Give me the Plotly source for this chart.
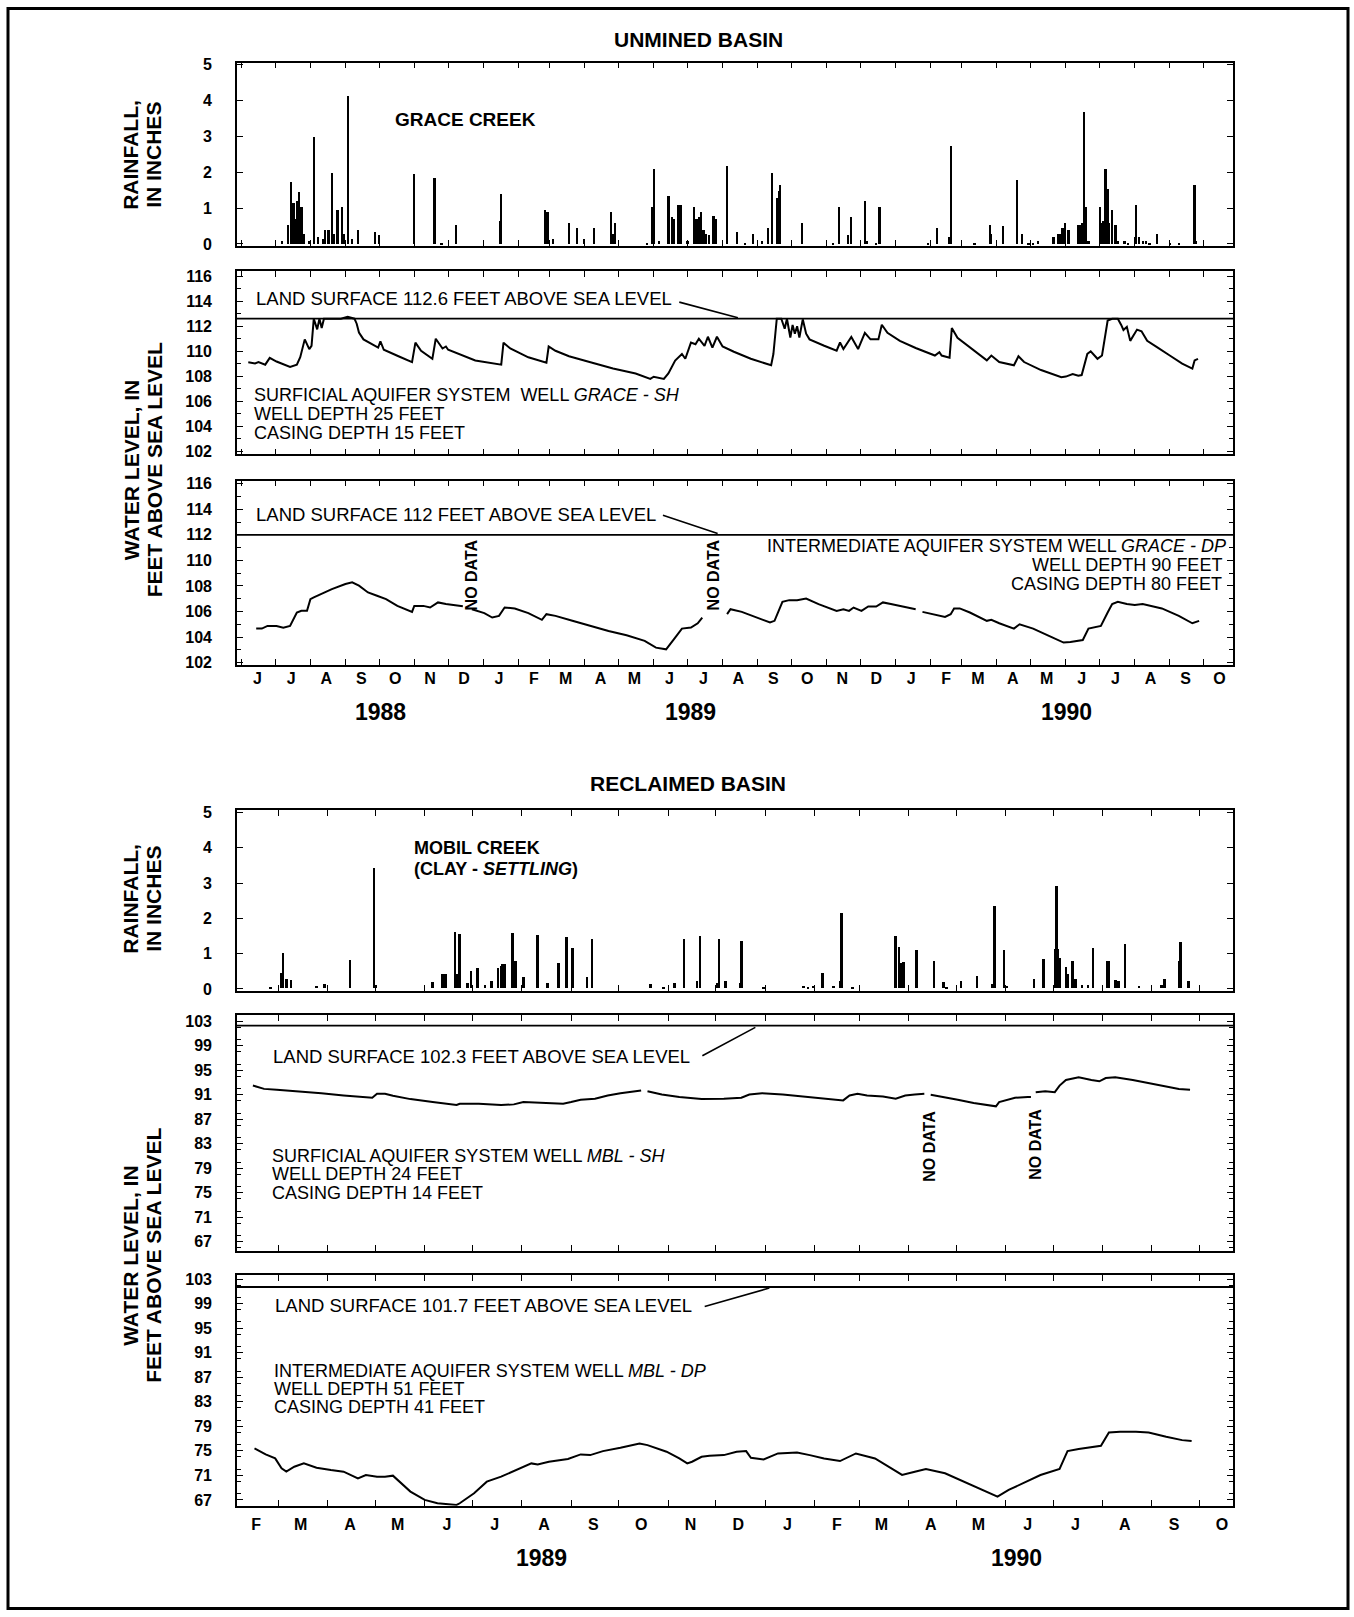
import plotly.graph_objects as go
import pandas as pd

W, H = 1354, 1617
FONT = "Liberation Sans, Arial, Helvetica, sans-serif"

# ---------------- DATA ----------------
# Unmined basin - Grace Creek daily rainfall (inches)
grace_rain_dates = [
    "1988-07-07", "1988-07-12", "1988-07-15", "1988-07-17", "1988-07-19", "1988-07-20", "1988-07-22",
    "1988-07-24", "1988-07-26", "1988-07-31", "1988-08-04", "1988-08-08", "1988-08-12", "1988-08-14",
    "1988-08-17", "1988-08-20", "1988-08-22", "1988-08-25", "1988-08-29", "1988-08-31", "1988-09-03",
    "1988-09-07", "1988-09-12", "1988-09-27", "1988-10-01", "1988-11-01", "1988-11-19", "1988-11-25",
    "1988-12-08", "1989-01-16", "1989-01-17", "1989-02-25", "1989-02-27", "1989-03-04", "1989-03-18",
    "1989-03-25", "1989-03-31", "1989-04-09", "1989-04-24", "1989-04-26", "1989-04-28", "1989-05-26",
    "1989-05-31", "1989-06-01", "1989-06-06", "1989-06-14", "1989-06-17", "1989-06-19", "1989-06-23",
    "1989-06-25", "1989-07-01", "1989-07-07", "1989-07-09", "1989-07-11", "1989-07-13", "1989-07-15",
    "1989-07-17", "1989-07-20", "1989-07-24", "1989-07-26", "1989-08-05", "1989-08-14", "1989-08-21",
    "1989-08-28", "1989-09-05", "1989-09-10", "1989-09-14", "1989-09-18", "1989-09-20", "1989-09-21",
    "1989-10-10", "1989-11-07", "1989-11-12", "1989-11-20", "1989-11-23", "1989-12-05", "1989-12-07",
    "1989-12-15", "1989-12-18", "1990-01-30", "1990-02-07", "1990-02-18", "1990-02-19", "1990-03-12",
    "1990-03-26", "1990-03-27", "1990-04-06", "1990-04-19", "1990-04-23", "1990-04-29", "1990-05-03",
    "1990-05-07", "1990-05-21", "1990-05-25", "1990-05-27", "1990-05-29", "1990-05-31", "1990-06-03",
    "1990-06-04", "1990-06-12", "1990-06-13", "1990-06-15", "1990-06-17", "1990-06-19", "1990-06-21",
    "1990-07-01", "1990-07-03", "1990-07-04", "1990-07-06", "1990-07-08", "1990-07-09", "1990-07-12",
    "1990-07-15", "1990-07-17", "1990-07-23", "1990-07-26", "1990-08-01", "1990-08-02", "1990-08-05",
    "1990-08-08", "1990-08-11", "1990-08-14", "1990-08-21", "1990-09-01", "1990-09-09", "1990-09-23",
    "1990-09-24",
]
grace_rain_in = [
    0.10, 0.55, 1.75, 1.15, 0.70, 1.20, 1.45,
    1.05, 0.30, 0.10, 3.00, 0.20, 0.15, 0.40,
    0.40, 2.00, 0.30, 0.95, 1.05, 0.30, 4.15,
    0.15, 0.40, 0.35, 0.25, 1.95, 1.85, 0.05,
    0.55, 0.65, 1.40, 0.95, 0.90, 0.15, 0.60,
    0.45, 0.15, 0.45, 0.90, 0.30, 0.60, 0.05,
    1.05, 2.10, 0.10, 1.35, 0.75, 0.70, 1.10,
    1.10, 0.10, 1.05, 0.70, 0.75, 0.90, 0.40,
    0.30, 0.25, 0.80, 0.70, 2.20, 0.35, 0.05,
    0.30, 0.10, 0.45, 2.00, 1.30, 1.50, 1.65,
    0.60, 0.05, 1.05, 0.25, 0.75, 1.20, 0.10,
    0.05, 1.05, 0.05, 0.45, 0.20, 2.75, 0.05,
    0.55, 0.30, 0.50, 1.80, 0.30, 0.05, 0.05,
    0.10, 0.20, 0.30, 0.30, 0.45, 0.60, 0.40,
    0.40, 0.55, 0.55, 0.60, 3.70, 1.05, 0.10,
    1.05, 0.60, 0.65, 2.10, 1.55, 0.60, 0.95,
    0.55, 0.10, 0.10, 0.05, 0.20, 1.10, 0.20,
    0.10, 0.10, 0.05, 0.30, 0.05, 0.05, 1.65,
    0.10,
]

# Surficial aquifer well GRACE-SH (feet above sea level)
grace_sh_dates = [
    "1988-06-07", "1988-06-13", "1988-06-16", "1988-06-22", "1988-06-26", "1988-07-02", "1988-07-14",
    "1988-07-20", "1988-07-23", "1988-07-27", "1988-07-31", "1988-08-02", "1988-08-04", "1988-08-07",
    "1988-08-09", "1988-08-11", "1988-08-13", "1988-08-28", "1988-09-03", "1988-09-09", "1988-09-11",
    "1988-09-13", "1988-09-17", "1988-09-25", "1988-09-30", "1988-10-02", "1988-10-05", "1988-10-18",
    "1988-10-30", "1988-11-02", "1988-11-07", "1988-11-17", "1988-11-20", "1988-11-26", "1988-11-29",
    "1988-12-01", "1988-12-11", "1988-12-25", "1989-01-17", "1989-01-19", "1989-01-25", "1989-02-10",
    "1989-02-26", "1989-02-28", "1989-03-06", "1989-03-18", "1989-04-06", "1989-04-26", "1989-05-16",
    "1989-05-29", "1989-06-01", "1989-06-10", "1989-06-14", "1989-06-20", "1989-06-26", "1989-06-29",
    "1989-07-04", "1989-07-08", "1989-07-11", "1989-07-16", "1989-07-19", "1989-07-23", "1989-07-27",
    "1989-08-01", "1989-08-11", "1989-08-26", "1989-09-13", "1989-09-15", "1989-09-18", "1989-09-22",
    "1989-09-25", "1989-09-27", "1989-09-30", "1989-10-02", "1989-10-04", "1989-10-06", "1989-10-08",
    "1989-10-11", "1989-10-14", "1989-10-17", "1989-10-30", "1989-11-10", "1989-11-13", "1989-11-16",
    "1989-11-23", "1989-11-29", "1989-12-05", "1989-12-10", "1989-12-17", "1989-12-20", "1989-12-25",
    "1990-01-05", "1990-01-19", "1990-02-05", "1990-02-09", "1990-02-11", "1990-02-18", "1990-02-20",
    "1990-02-25", "1990-03-08", "1990-03-23", "1990-03-27", "1990-04-03", "1990-04-16", "1990-04-20",
    "1990-04-25", "1990-05-10", "1990-05-28", "1990-06-01", "1990-06-07", "1990-06-12", "1990-06-15",
    "1990-06-20", "1990-06-23", "1990-06-29", "1990-07-03", "1990-07-08", "1990-07-12", "1990-07-17",
    "1990-07-20", "1990-07-22", "1990-07-25", "1990-07-28", "1990-08-03", "1990-08-07", "1990-08-12",
    "1990-08-16", "1990-08-21", "1990-09-01", "1990-09-12", "1990-09-21", "1990-09-23", "1990-09-26",
]
grace_sh_ft = [
    109.13, 109.03, 109.13, 108.93, 109.47, 109.18, 108.75,
    108.93, 109.52, 110.95, 110.17, 110.43, 112.60, 111.75,
    112.60, 111.85, 112.60, 112.60, 112.75, 112.60, 112.20,
    111.50, 110.95, 110.56, 110.30, 110.80, 110.12, 109.60,
    109.13, 110.69, 110.04, 109.40, 111.00, 110.22, 110.38,
    110.12, 109.78, 109.26, 108.93, 110.69, 110.22, 109.52,
    109.08, 110.38, 110.04, 109.60, 109.13, 108.62, 108.23,
    107.79, 107.97, 107.79, 108.23, 109.26, 109.78, 109.40,
    110.69, 110.56, 111.00, 110.43, 111.16, 110.30, 111.16,
    110.38, 109.96, 109.40, 108.88, 109.78, 112.60, 112.60,
    111.80, 112.60, 111.10, 112.10, 111.40, 112.00, 111.10,
    112.55, 111.40, 110.95, 110.44, 110.05, 110.70, 110.18,
    111.14, 110.18, 111.47, 110.95, 110.95, 112.12, 111.47,
    110.83, 110.26, 109.66, 109.92, 109.66, 109.48, 111.86,
    111.08, 110.31, 109.27, 109.66, 109.14, 108.88, 109.60,
    109.14, 108.50, 107.93, 107.98, 108.19, 108.04, 108.10,
    109.79, 110.00, 109.40, 109.66, 112.45, 112.60, 112.60,
    112.10, 111.70, 111.95, 110.83, 111.73, 111.60, 110.83,
    110.57, 110.31, 109.66, 109.01, 108.62, 109.27, 109.40,
]

# Intermediate aquifer well GRACE-DP (None = no data)
grace_dp_dates = [
    "1988-06-14", "1988-06-19", "1988-06-24", "1988-07-02", "1988-07-08", "1988-07-14", "1988-07-20",
    "1988-07-24", "1988-07-29", "1988-08-01", "1988-08-04", "1988-08-10", "1988-08-20", "1988-09-01",
    "1988-09-07", "1988-09-13", "1988-09-21", "1988-09-29", "1988-10-07", "1988-10-17", "1988-10-30",
    "1988-11-01", "1988-11-09", "1988-11-15", "1988-11-22", "1988-11-29", "1988-12-11", "1988-12-14",
    "1988-12-18", "1988-12-22", "1988-12-29", "1989-01-02", "1989-01-09", "1989-01-15", "1989-01-20",
    "1989-01-29", "1989-02-10", "1989-02-22", "1989-02-26", "1989-03-06", "1989-03-21", "1989-04-06",
    "1989-04-22", "1989-05-08", "1989-05-24", "1989-06-03", "1989-06-12", "1989-06-20", "1989-06-26",
    "1989-07-04", "1989-07-10", "1989-07-14", "1989-07-25", "1989-08-05", "1989-08-08", "1989-08-18",
    "1989-09-01", "1989-09-12", "1989-09-16", "1989-09-20", "1989-09-23", "1989-09-29", "1989-10-06",
    "1989-10-14", "1989-10-25", "1989-11-10", "1989-11-16", "1989-11-21", "1989-11-25", "1989-12-02",
    "1989-12-08", "1989-12-15", "1989-12-21", "1989-12-28", "1990-01-12", "1990-01-19", "1990-01-22",
    "1990-01-25", "1990-02-03", "1990-02-14", "1990-02-19", "1990-02-22", "1990-02-27", "1990-03-08",
    "1990-03-23", "1990-03-27", "1990-04-03", "1990-04-16", "1990-04-21", "1990-05-03", "1990-05-17",
    "1990-05-30", "1990-06-05", "1990-06-16", "1990-06-21", "1990-07-02", "1990-07-08", "1990-07-12",
    "1990-07-17", "1990-07-25", "1990-08-01", "1990-08-08", "1990-08-25", "1990-09-09", "1990-09-21",
    "1990-09-27",
]
grace_dp_ft = [
    104.66, 104.66, 104.87, 104.87, 104.74, 104.87, 105.92,
    106.05, 106.05, 106.97, 107.10, 107.36, 107.75, 108.15,
    108.28, 108.02, 107.49, 107.23, 106.97, 106.44, 105.97,
    106.44, 106.44, 106.31, 106.71, 106.58, 106.44, 106.42,
    None, 106.18, 105.97, 105.87, 105.53, 105.66, 106.31,
    106.24, 105.87, 105.35, 105.79, 105.66, 105.27, 104.87,
    104.48, 104.14, 103.70, 103.17, 103.04, 103.96, 104.66,
    104.74, 105.08, 105.53, None, 105.79, 106.18, 105.97,
    105.53, 105.14, 105.27, 106.18, 106.76, 106.89, 106.89,
    107.02, 106.58, 106.05, 106.18, 106.05, 106.31, 106.05,
    106.39, 106.39, 106.71, 106.58, 106.31, 106.18, None,
    105.97, 105.79, 105.58, 105.79, 106.24, 106.24, 105.92,
    105.27, 105.35, 105.08, 104.66, 105.00, 104.66, 104.09,
    103.57, 103.62, 103.77, 104.66, 104.87, 105.92, 106.58,
    106.76, 106.58, 106.50, 106.58, 106.24, 105.66, 105.08,
    105.27,
]

# Reclaimed basin - Mobil Creek (clay-settling) daily rainfall (inches)
mobil_rain_dates = [
    "1989-02-24", "1989-03-03", "1989-03-04", "1989-03-06", "1989-03-09", "1989-03-25", "1989-03-30",
    "1989-04-15", "1989-04-30", "1989-05-01", "1989-06-06", "1989-06-12", "1989-06-14", "1989-06-20",
    "1989-06-21", "1989-06-23", "1989-06-28", "1989-06-30", "1989-07-04", "1989-07-09", "1989-07-13",
    "1989-07-17", "1989-07-19", "1989-07-20", "1989-07-21", "1989-07-26", "1989-07-28", "1989-08-02",
    "1989-08-11", "1989-08-17", "1989-08-24", "1989-08-29", "1989-09-02", "1989-09-11", "1989-09-14",
    "1989-10-21", "1989-10-29", "1989-11-05", "1989-11-11", "1989-11-19", "1989-11-21", "1989-12-02",
    "1989-12-03", "1989-12-07", "1989-12-16", "1989-12-17", "1989-12-31", "1990-01-25", "1990-01-28",
    "1990-01-31", "1990-02-06", "1990-02-13", "1990-02-17", "1990-02-18", "1990-02-25", "1990-03-24",
    "1990-03-26", "1990-03-27", "1990-03-29", "1990-04-06", "1990-04-17", "1990-04-23", "1990-04-25",
    "1990-05-04", "1990-05-14", "1990-05-24", "1990-05-25", "1990-05-31", "1990-06-02", "1990-06-19",
    "1990-06-25", "1990-07-02", "1990-07-03", "1990-07-04", "1990-07-05", "1990-07-09", "1990-07-10",
    "1990-07-13", "1990-07-15", "1990-07-19", "1990-07-23", "1990-07-26", "1990-08-04", "1990-08-05",
    "1990-08-09", "1990-08-11", "1990-08-15", "1990-08-24", "1990-09-07", "1990-09-09", "1990-09-18",
    "1990-09-19", "1990-09-24",
]
mobil_rain_in = [
    0.03, 0.45, 1.00, 0.27, 0.25, 0.08, 0.12,
    0.80, 3.42, 0.10, 0.17, 0.42, 0.40, 1.60,
    0.40, 1.55, 0.15, 0.50, 0.57, 0.10, 0.20,
    0.57, 0.65, 0.70, 0.70, 1.57, 0.77, 0.32,
    1.52, 0.15, 0.72, 1.45, 1.15, 0.32, 1.40,
    0.12, 0.05, 0.15, 1.40, 0.22, 1.50, 0.15,
    1.40, 0.22, 0.15, 1.35, 0.05, 0.07, 0.05,
    0.06, 0.43, 0.06, 0.22, 2.15, 0.03, 1.50,
    1.17, 0.72, 0.74, 1.10, 0.77, 0.18, 0.03,
    0.22, 0.36, 0.13, 2.35, 1.10, 0.06, 0.27,
    0.83, 1.12, 2.90, 1.12, 0.85, 0.60, 0.40,
    0.78, 0.27, 0.09, 0.09, 1.15, 0.78, 0.77,
    0.24, 0.22, 1.25, 0.06, 0.09, 0.27, 0.77,
    1.32, 0.22,
]

# Surficial aquifer well MBL-SH (None = no data)
mbl_sh_dates = [
    "1989-02-13", "1989-02-20", "1989-02-28", "1989-03-14", "1989-03-28", "1989-04-11", "1989-04-25",
    "1989-04-29", "1989-05-02", "1989-05-07", "1989-05-12", "1989-05-23", "1989-06-06", "1989-06-21",
    "1989-06-23", "1989-07-05", "1989-07-19", "1989-07-27", "1989-08-02", "1989-08-13", "1989-08-27",
    "1989-09-01", "1989-09-07", "1989-09-16", "1989-09-24", "1989-10-02", "1989-10-11", "1989-10-15",
    "1989-10-17", "1989-10-19", "1989-10-28", "1989-11-08", "1989-11-22", "1989-12-06", "1989-12-17",
    "1989-12-22", "1989-12-30", "1990-01-12", "1990-01-25", "1990-02-07", "1990-02-19", "1990-02-23",
    "1990-02-28", "1990-03-06", "1990-03-16", "1990-03-24", "1990-03-30", "1990-04-05", "1990-04-11",
    "1990-04-13", "1990-04-15", "1990-04-21", "1990-05-02", "1990-05-12", "1990-05-23", "1990-05-26",
    "1990-05-28", "1990-06-02", "1990-06-07", "1990-06-15", "1990-06-17", "1990-06-18", "1990-06-20",
    "1990-06-26", "1990-07-02", "1990-07-05", "1990-07-09", "1990-07-17", "1990-07-25", "1990-07-30",
    "1990-08-03", "1990-08-09", "1990-08-20", "1990-08-30", "1990-09-10", "1990-09-18", "1990-09-25",
]
mbl_sh_ft = [
    92.49, 91.95, 91.79, 91.58, 91.25, 90.88, 90.61,
    90.50, 91.15, 91.15, 90.82, 90.28, 89.80, 89.31,
    89.53, 89.53, 89.31, 89.42, 89.80, 89.64, 89.53,
    89.80, 90.18, 90.34, 90.88, 91.25, 91.58, 91.69,
    None, 91.58, 91.04, 90.61, 90.28, 90.34, 90.50,
    91.04, 91.25, 91.04, 90.72, 90.34, 90.07, 90.88,
    91.15, 90.88, 90.72, 90.34, 90.88, 91.04, 91.15,
    None, 90.98, 90.72, 90.18, 89.64, 89.26, 89.10,
    89.80, 90.18, 90.50, 90.61, 90.61, None, 91.42,
    91.58, 91.42, 92.49, 93.41, 93.84, 93.41, 93.19,
    93.73, 93.84, 93.41, 92.87, 92.33, 91.95, 91.79,
]

# Intermediate aquifer well MBL-DP
mbl_dp_dates = [
    "1989-02-14", "1989-02-21", "1989-02-27", "1989-03-03", "1989-03-06", "1989-03-11", "1989-03-17",
    "1989-03-25", "1989-04-03", "1989-04-11", "1989-04-20", "1989-04-25", "1989-05-02", "1989-05-07",
    "1989-05-12", "1989-05-23", "1989-06-01", "1989-06-09", "1989-06-21", "1989-06-23", "1989-07-02",
    "1989-07-10", "1989-07-19", "1989-07-30", "1989-08-07", "1989-08-11", "1989-08-18", "1989-08-30",
    "1989-09-07", "1989-09-13", "1989-09-21", "1989-10-02", "1989-10-14", "1989-10-19", "1989-10-31",
    "1989-11-08", "1989-11-13", "1989-11-16", "1989-11-22", "1989-11-27", "1989-12-06", "1989-12-14",
    "1989-12-20", "1989-12-23", "1989-12-31", "1990-01-09", "1990-01-21", "1990-01-29", "1990-02-07",
    "1990-02-17", "1990-02-23", "1990-02-27", "1990-03-11", "1990-03-21", "1990-03-28", "1990-04-05",
    "1990-04-12", "1990-04-24", "1990-05-07", "1990-05-20", "1990-05-27", "1990-06-03", "1990-06-13",
    "1990-06-23", "1990-07-05", "1990-07-10", "1990-07-17", "1990-07-31", "1990-08-05", "1990-08-12",
    "1990-08-22", "1990-08-30", "1990-09-10", "1990-09-20", "1990-09-26",
]
mbl_dp_ft = [
    75.39, 74.41, 73.76, 72.14, 71.60, 72.41, 72.95,
    72.25, 71.87, 71.60, 70.51, 71.06, 70.79, 70.79,
    70.95, 68.35, 67.00, 66.45, 66.18, 66.45, 68.08,
    69.97, 70.79, 72.03, 72.95, 72.79, 73.22, 73.66,
    74.41, 74.30, 74.95, 75.50, 76.20, 75.93, 74.85,
    73.76, 72.95, 73.22, 74.03, 74.20, 74.30, 74.85,
    74.95, 73.87, 73.60, 74.57, 74.74, 74.30, 73.76,
    73.33, 74.03, 74.57, 73.76, 72.14, 71.06, 71.60,
    72.03, 71.33, 69.87, 68.35, 67.54, 68.62, 69.87,
    71.06, 72.03, 74.95, 75.28, 75.82, 77.99, 78.10,
    78.10, 77.99, 77.28, 76.74, 76.58,
]

# Land-surface altitudes (feet above sea level)
land_grace_sh = 112.6
land_grace_dp = 112.0
land_mbl_sh = 102.3
land_mbl_dp = 101.7

# Month tick labels
top_months = ["J", "J", "A", "S", "O", "N", "D", "J", "F", "M", "A", "M", "J", "J", "A",
              "S", "O", "N", "D", "J", "F", "M", "A", "M", "J", "J", "A", "S", "O"]
top_first_month = "1988-06-01"
bot_months = ["F", "M", "A", "M", "J", "J", "A", "S", "O", "N", "D",
              "J", "F", "M", "A", "M", "J", "J", "A", "S", "O"]
bot_first_month = "1989-02-01"

top_range = ["1988-05-28", "1990-10-27"]
bot_range = ["1989-02-03", "1990-10-22"]

# ---------------- helpers ----------------
def px(x):
    return x / W


def py(y):
    return 1 - y / H


def mids(first, n):
    starts = pd.date_range(first, periods=n, freq="MS")
    return [(d + pd.Timedelta(days=14)).strftime("%Y-%m-%d") for d in starts]


def mstarts(first, n):
    return [d.strftime("%Y-%m-%d") for d in pd.date_range(first, periods=n + 1, freq="MS")]


XL, XR = px(237), px(1233)
DAY = 86400000

fig = go.Figure()

fig.add_trace(go.Bar(x=grace_rain_dates, y=grace_rain_in, width=2.0 * DAY,
                     marker=dict(color="black", line=dict(width=0)), xaxis="x", yaxis="y"))
fig.add_trace(go.Scatter(x=grace_sh_dates, y=grace_sh_ft, mode="lines",
                         line=dict(color="black", width=2), xaxis="x2", yaxis="y2"))
fig.add_trace(go.Scatter(x=grace_dp_dates, y=grace_dp_ft, mode="lines", connectgaps=False,
                         line=dict(color="black", width=2), xaxis="x3", yaxis="y3"))
fig.add_trace(go.Bar(x=mobil_rain_dates, y=mobil_rain_in, width=1.6 * DAY,
                     marker=dict(color="black", line=dict(width=0)), xaxis="x4", yaxis="y4"))
fig.add_trace(go.Scatter(x=mbl_sh_dates, y=mbl_sh_ft, mode="lines", connectgaps=False,
                         line=dict(color="black", width=2), xaxis="x5", yaxis="y5"))
fig.add_trace(go.Scatter(x=mbl_dp_dates, y=mbl_dp_ft, mode="lines",
                         line=dict(color="black", width=2), xaxis="x6", yaxis="y6"))

# panel geometry: (top px, bottom px, y-range, dtick, minor dtick)
panels = [
    (57, 242, [-0.06, 5.06], 1, None),
    (267, 452, [101.77, 116.42], 2, 1),
    (478.5, 664, [101.84, 116.24], 2, 1),
    (811, 993, [-0.06, 5.06], 1, None),
    (1017, 1255, [65.48, 104.05], 4, 2),
    (1279, 1512, [66.03, 103.7], 4, 2),
]

layout_axes = {}
for i, (top, bot, yr, dt, mdt) in enumerate(panels, start=1):
    is_top = i <= 3
    months = top_months if is_top else bot_months
    first = top_first_month if is_top else bot_first_month
    xname = "xaxis" if i == 1 else f"xaxis{i}"
    yname = "yaxis" if i == 1 else f"yaxis{i}"
    show_x = i in (3, 6)
    layout_axes[xname] = dict(
        domain=[XL, XR], anchor="y" if i == 1 else f"y{i}", type="date",
        range=top_range if is_top else bot_range,
        tickmode="array", tickvals=mids(first, len(months)), ticktext=months,
        ticks="", showticklabels=show_x, ticklabelstandoff=-2 if is_top else 3,
        tickfont=dict(family=FONT, size=16, color="black", weight="bold"),
        minor=dict(tickmode="array", tickvals=mstarts(first, len(months)),
                   ticks="inside", ticklen=6, tickwidth=1.2, tickcolor="black", showgrid=False),
        showline=True, linecolor="black", linewidth=1.6, mirror="allticks",
        showgrid=False, zeroline=False,
    )
    ydict = dict(
        domain=[py(bot), py(top)], anchor="x" if i == 1 else f"x{i}",
        range=yr, tickmode="linear", tick0=0 if dt == 1 else (102 if i in (2, 3) else 67), dtick=dt,
        ticks="inside", ticklen=6, tickwidth=1.2, tickcolor="black",
        ticklabelstandoff=20,
        tickfont=dict(family=FONT, size=16, color="black", weight="bold"),
        showline=True, linecolor="black", linewidth=1.6, mirror="allticks",
        showgrid=False, zeroline=False,
    )
    if mdt:
        ydict["minor"] = dict(dtick=mdt, ticks="inside", ticklen=4, tickwidth=1,
                              tickcolor="black", showgrid=False)
    layout_axes[yname] = ydict

shapes = []
for xa, ya, val in (("x2", "y2", land_grace_sh), ("x3", "y3", land_grace_dp),
                    ("x5", "y5", land_mbl_sh), ("x6", "y6", land_mbl_dp)):
    shapes.append(dict(type="line", xref=f"{xa} domain", yref=ya, x0=0, x1=1, y0=val, y1=val,
                       line=dict(color="black", width=1.8)))
shapes.append(dict(type="rect", xref="paper", yref="paper", x0=px(8), x1=px(1348),
                   y0=py(1615.5), y1=py(2.5), line=dict(color="black", width=3)))

annotations = []


def txt(x, y, s, size=18, anchor="left", angle=0):
    annotations.append(dict(x=px(x), y=py(y), xref="paper", yref="paper", text=s,
                            showarrow=False, xanchor=anchor, yanchor="middle", textangle=angle,
                            font=dict(family=FONT, size=size, color="black")))


def leader(xa, ya, xd, yd, ax, ay):
    annotations.append(dict(x=xd, y=yd, xref=xa, yref=ya, ax=ax, ay=ay, text="",
                            showarrow=True, arrowhead=0, arrowwidth=1.6, arrowcolor="black",
                            standoff=4))


# titles
txt(698, 34, "<b>UNMINED BASIN</b>", 21, "center")
txt(688, 784, "<b>RECLAIMED BASIN</b>", 21, "center")

# y-axis titles (rotated)
for yc in (150, 900):
    txt(131, yc, "<b>RAINFALL,</b>", 21, "center", -90)
    txt(154, yc, "<b>IN INCHES</b>", 21, "center", -90)
for yc in (468, 1260):
    txt(131, yc, "<b>WATER LEVEL, IN</b>", 21, "center", -90)
    txt(154, yc, "<b>FEET ABOVE SEA LEVEL</b>", 21, "center", -90)

# panel texts
txt(393, 114, "<b>GRACE CREEK</b>", 19)
txt(254, 295, "LAND SURFACE 112.6 FEET ABOVE SEA LEVEL", 18.5)
txt(252, 392, "SURFICIAL AQUIFER SYSTEM  WELL <i>GRACE - SH</i>", 18)
txt(252, 411, "WELL DEPTH 25 FEET", 18)
txt(252, 430, "CASING DEPTH 15 FEET", 18)

txt(254, 513, "LAND SURFACE 112 FEET ABOVE SEA LEVEL", 18.5)
txt(1228, 544, "INTERMEDIATE AQUIFER SYSTEM WELL <i>GRACE - DP</i>", 18, "right")
txt(1224, 564, "WELL DEPTH 90 FEET", 18, "right")
txt(1224, 583, "CASING DEPTH 80 FEET", 18, "right")
txt(471, 574, "<b>NO DATA</b>", 16, "center", -90)
txt(713, 574, "<b>NO DATA</b>", 16, "center", -90)

txt(412, 849, "<b>MOBIL CREEK</b>", 18)
txt(412, 870, "<b>(CLAY - <i>SETTLING</i>)</b>", 18)

txt(271, 1059, "LAND SURFACE 102.3 FEET ABOVE SEA LEVEL", 18.5)
txt(270, 1159, "SURFICIAL AQUIFER SYSTEM WELL <i>MBL - SH</i>", 18)
txt(270, 1177, "WELL DEPTH 24 FEET", 18)
txt(270, 1197, "CASING DEPTH 14 FEET", 18)
txt(930, 1150, "<b>NO DATA</b>", 16, "center", -90)
txt(1036, 1148, "<b>NO DATA</b>", 16, "center", -90)

txt(273, 1310, "LAND SURFACE 101.7 FEET ABOVE SEA LEVEL", 18.5)
txt(272, 1376, "INTERMEDIATE AQUIFER SYSTEM WELL <i>MBL - DP</i>", 18)
txt(272, 1394, "WELL DEPTH 51 FEET", 18)
txt(272, 1412, "CASING DEPTH 41 FEET", 18)

# year labels
txt(381, 712, "<b>1988</b>", 23, "center")
txt(690, 712, "<b>1989</b>", 23, "center")
txt(1066, 712, "<b>1990</b>", 23, "center")
txt(541, 1565, "<b>1989</b>", 23, "center")
txt(1016, 1565, "<b>1990</b>", 23, "center")

# leader lines from land-surface labels to the land-surface line
leader("x2", "y2", "1989-08-18", land_grace_sh, -64, -17)
leader("x3", "y3", "1989-07-31", land_grace_dp, -60, -20)
leader("x5", "y5", "1989-12-28", land_mbl_sh, -58, 31)
leader("x6", "y6", "1990-01-06", land_mbl_dp, -70, 20)

fig.update_layout(
    width=W, height=H, autosize=False,
    margin=dict(l=0, r=0, t=0, b=0),
    paper_bgcolor="white", plot_bgcolor="white",
    showlegend=False, bargap=0,
    font=dict(family=FONT, color="black"),
    shapes=shapes, annotations=annotations,
    **layout_axes,
)

fig.write_html("out.html")
